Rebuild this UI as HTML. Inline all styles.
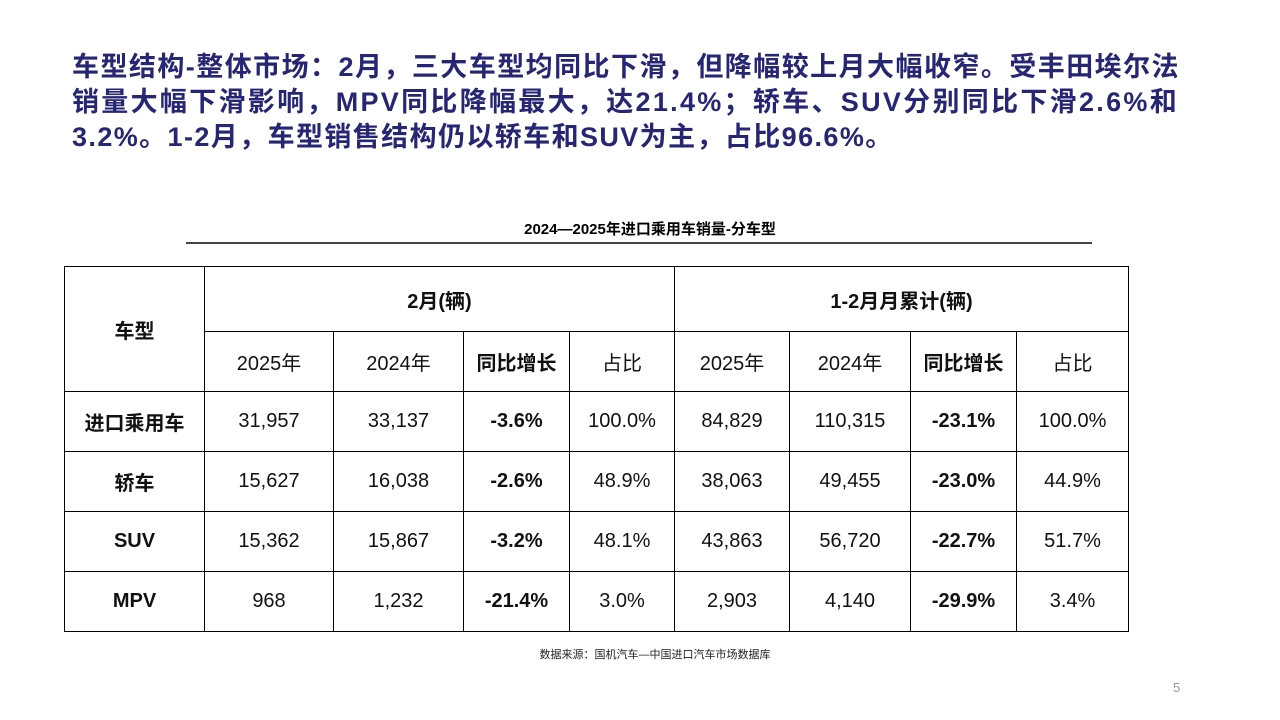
<!DOCTYPE html>
<html><head><meta charset="utf-8"><style>
body{margin:0;width:1280px;height:720px;background:#fff;position:relative;overflow:hidden;font-family:"Liberation Sans","Noto Sans CJK SC",sans-serif;}
.t{position:absolute;left:72px;top:50px;font-size:27px;line-height:35px;font-weight:bold;color:#262675;white-space:nowrap;}
.t div{height:35px;}
.ct{position:absolute;left:0;width:1300px;top:218px;text-align:center;font-size:15px;font-weight:bold;color:#000;}
.ln{position:absolute;left:186px;top:242px;width:906px;height:2px;background:#444;}
table{position:absolute;left:64px;top:266px;border-collapse:collapse;}
td{border:1px solid #000;text-align:center;font-size:20px;color:#111;padding:0;}
.b{font-weight:bold;}
.src{position:absolute;left:0;width:1310px;top:646px;text-align:center;font-size:11px;color:#222;}
.pg{position:absolute;left:1173px;top:680px;font-size:13px;color:#999;}
</style></head><body>
<div class="t"><div style="letter-spacing:1.45px">车型结构-整体市场：2月，三大车型均同比下滑，但降幅较上月大幅收窄。受丰田埃尔法</div><div style="letter-spacing:2.3px">销量大幅下滑影响，MPV同比降幅最大，达21.4%；轿车、SUV分别同比下滑2.6%和</div><div style="letter-spacing:1.4px">3.2%。1-2月，车型销售结构仍以轿车和SUV为主，占比96.6%。</div></div>
<div class="ct">2024—2025年进口乘用车销量-分车型</div>
<div class="ln"></div>
<table>
<colgroup><col style="width:140px"><col style="width:129px"><col style="width:130px"><col style="width:106px"><col style="width:105px"><col style="width:115px"><col style="width:121px"><col style="width:106px"><col style="width:112px"></colgroup>
<tr style="height:65px"><td rowspan="2" class="b">车型</td><td colspan="4" class="b">2月(辆)</td><td colspan="4" class="b">1-2月月累计(辆)</td></tr>
<tr style="height:60px"><td>2025年</td><td>2024年</td><td class="b">同比增长</td><td>占比</td><td>2025年</td><td>2024年</td><td class="b">同比增长</td><td>占比</td></tr>
<tr style="height:60px"><td class="b">进口乘用车</td><td>31,957</td><td>33,137</td><td class="b">-3.6%</td><td>100.0%</td><td>84,829</td><td>110,315</td><td class="b">-23.1%</td><td>100.0%</td></tr>
<tr style="height:60px"><td class="b">轿车</td><td>15,627</td><td>16,038</td><td class="b">-2.6%</td><td>48.9%</td><td>38,063</td><td>49,455</td><td class="b">-23.0%</td><td>44.9%</td></tr>
<tr style="height:60px"><td class="b">SUV</td><td>15,362</td><td>15,867</td><td class="b">-3.2%</td><td>48.1%</td><td>43,863</td><td>56,720</td><td class="b">-22.7%</td><td>51.7%</td></tr>
<tr style="height:60px"><td class="b">MPV</td><td>968</td><td>1,232</td><td class="b">-21.4%</td><td>3.0%</td><td>2,903</td><td>4,140</td><td class="b">-29.9%</td><td>3.4%</td></tr>
</table>
<div class="src">数据来源：国机汽车—中国进口汽车市场数据库</div>
<div class="pg">5</div>
</body></html>
